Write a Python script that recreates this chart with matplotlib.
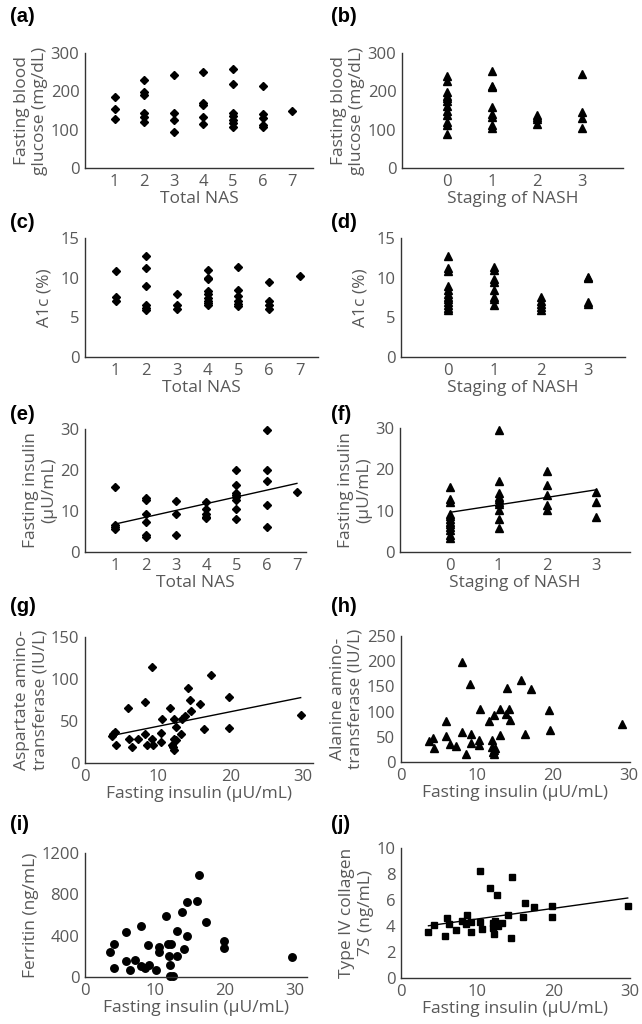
import numpy as np
import matplotlib.pyplot as plt

plt.rcParams['font.family'] = ['Open Sans', 'DejaVu Sans']
W, H = 642, 1024
grey = '#585858'
fs_tick = 12
fs_lab = 12.5

# categories
nas = [1, 2, 3, 4, 5, 6, 7]
stage = [0, 1, 2, 3]

# (a) fasting blood glucose by total NAS
a_glu = [[184, 154, 129], [230, 198, 190, 143, 133, 119], [243, 143, 126, 93],
         [250, 169, 164, 133, 116], [257, 219, 143, 135, 126, 117, 106],
         [215, 142, 130, 113, 107], [148]]
# (b) fasting blood glucose by staging
b_glu = [[240, 228, 198, 189, 183, 176, 163, 150, 137, 121, 113, 89],
         [254, 214, 212, 160, 141, 133, 111, 104], [139, 133, 128, 114],
         [245, 147, 130, 104]]
# (c) A1c by total NAS
c_a1c = [[10.8, 7.6, 7.1], [12.7, 11.2, 8.9, 6.5, 6.2, 5.9], [8.0, 6.6, 6.0],
         [11.0, 10.0, 9.8, 8.3, 7.9, 7.5, 7.1, 6.8, 6.6],
         [11.4, 8.5, 7.7, 7.1, 6.7, 6.4], [9.4, 7.1, 6.6, 6.1], [10.2]]
# (d) A1c by staging
d_a1c = [[12.7, 11.2, 10.9, 8.9, 8.4, 8.0, 7.6, 7.3, 6.9, 6.6, 6.2, 5.9],
         [11.4, 11.0, 9.8, 9.4, 8.4, 7.6, 7.3, 6.6], [7.6, 7.1, 6.7, 6.3, 5.9],
         [10.1, 9.9, 6.9, 6.7]]
# (e) fasting insulin by total NAS
e_ins = [[15.9, 6.5, 6.0, 5.6], [13.2, 12.7, 9.2, 7.2, 4.1, 3.7], [12.4, 9.2, 4.1],
         [12.3, 10.5, 9.2, 8.6, 8.2], [19.9, 16.4, 14.5, 13.9, 13.3, 12.7, 10.6, 8.0],
         [29.8, 19.9, 17.4, 11.5, 6.0], [14.6]]
# (f) fasting insulin by staging
f_ins = [[15.8, 12.8, 12.2, 9.3, 8.7, 7.9, 7.3, 6.7, 6.1, 5.4, 4.2, 3.5],
         [29.4, 17.2, 14.2, 13.4, 12.8, 12.2, 11.6, 10.1, 7.9, 5.8],
         [19.6, 16.1, 13.9, 11.4, 10.1], [14.4, 12.2, 8.4]]
# (g) AST vs fasting insulin
g_ins = [3.7, 3.9, 4.2, 4.3, 5.9, 6.1, 6.5, 7.3, 8.2, 8.3, 8.6, 9.2, 9.2, 9.3, 10.4, 10.5,
         10.6, 11.7, 12.0, 12.1, 12.2, 12.2, 12.3, 12.5, 12.6, 13.3, 13.2, 13.8, 14.2,
         14.4, 14.6, 15.9, 16.4, 17.3, 19.8, 19.9, 29.7]
g_ast = [31.8, 34, 36.5, 22, 66, 29, 19, 29, 72.6, 34, 22, 114, 29, 22, 35.7, 24.6,
         52.4, 66, 22, 19, 15, 29, 52.8, 27, 42.9, 52.8, 35, 55.6, 89.7,
         75.4, 62, 70, 40, 105, 79, 41.7, 57.6]
# (h) ALT vs fasting insulin
h_ins = [3.7, 4.2, 4.3, 5.9, 6.0, 6.4, 7.3, 8.1, 8.1, 8.6, 9.1, 9.2, 9.2, 10.3, 10.4, 10.3,
         11.6, 12.2, 12.0, 12.0, 12.1, 12.2, 12.3, 12.4, 13.0, 13.1, 13.8, 14.0, 14.3,
         14.4, 15.8, 16.3, 17.2, 19.5, 19.6, 29.2]
h_alt = [41.8, 48.4, 27.8, 81.5, 51, 36.5, 31.2, 59.7, 197.6, 16.6, 154.5, 55.7, 37.8,
         43, 105.4, 33, 81.5, 94, 43, 30, 20, 16.6, 24.5, 27.8, 53, 104.8, 94.8, 147.8,
         106, 82.9, 161.8, 55, 144.5, 102.8, 63.6, 74.9]
# (i) ferritin vs fasting insulin
i_ins = [3.6, 4.1, 4.1, 5.9, 5.9, 6.4, 7.2, 8.0, 8.0, 8.5, 9.1, 9.0, 10.2, 10.5, 10.5,
         11.5, 11.9, 12.0, 12.3, 12.2, 12.1, 12.5, 13.1, 13.2, 13.8, 14.1, 14.5, 14.5,
         16.0, 16.3, 17.3, 19.9, 19.8, 29.6]
i_fer = [242, 316, 90, 432, 155, 71, 161, 494, 103, 90, 116, 310, 71, 290, 239,
         594, 316, 206, 316, 113, 6, 6, 200, 445, 626, 274, 726, 400,
         736, 990, 532, 345, 284, 190]
# (j) type IV collagen 7S vs fasting insulin
j_ins = [3.6, 4.3, 5.8, 6.0, 6.3, 7.2, 8.0, 8.6, 8.5, 9.2, 9.2, 10.4, 10.4, 10.6, 11.6,
         12.0, 12.1, 12.2, 12.3, 12.6, 12.7, 13.2, 14.0, 14.4, 14.6, 16.0, 16.3, 17.4,
         19.8, 19.8, 29.7]
j_col = [3.52, 4.06, 3.24, 4.65, 4.16, 3.7, 4.4, 4.83, 4.16, 3.52, 4.27, 8.22, 4.27,
         3.78, 6.89, 4.22, 3.83, 3.39, 4.42, 6.37, 4.03, 4.22, 4.88, 3.08, 7.76, 4.70,
         5.78, 5.45, 5.55, 4.73, 5.52]

fig = plt.figure(figsize=(W / 100, H / 100), dpi=100)


def px_axes(l, r, t, b):
    ax = fig.add_axes([l / W, 1 - b / H, (r - l) / W, (b - t) / H])
    for s in ['top', 'right']:
        ax.spines[s].set_visible(False)
    for s in ['left', 'bottom']:
        ax.spines[s].set_color('#333333')
        ax.spines[s].set_linewidth(1.0)
    ax.tick_params(length=0, labelsize=fs_tick, labelcolor=grey, pad=4)
    return ax


def flat(cats, groups):
    xs = [c for c, g in zip(cats, groups) for _ in g]
    ys = [v for g in groups for v in g]
    return np.array(xs, float), np.array(ys, float)


def trend(ax, x, y):
    k, b = np.polyfit(x, y, 1)
    xx = np.array([min(x), max(x)])
    ax.plot(xx, k * xx + b, color='black', lw=1.0)


def label(x, y, s):
    fig.text(x / W, 1 - y / H, s, fontsize=14.5, fontweight='bold',
             family='Liberation Sans', va='center', ha='left')


dia = dict(marker='D', ms=3.8, color='black', ls='none', clip_on=False)
tri = dict(marker='^', ms=5.4, color='black', ls='none', clip_on=False)

# (a)
ax = px_axes(85, 313, 53, 168)
x, y = flat(nas, a_glu)
ax.plot(x, y, **dia)
ax.set_xlim(0, 7.7); ax.set_ylim(0, 300)
ax.set_xticks(nas); ax.set_yticks([0, 100, 200, 300])
ax.set_ylabel('Fasting blood\nglucose (mg/dL)', fontsize=fs_lab, color=grey, labelpad=2)
ax.set_xlabel('Total NAS', fontsize=fs_lab, color=grey, labelpad=1)
label(10, 17, '(a)')

# (b)
ax = px_axes(402, 623, 53, 168)
x, y = flat(stage, b_glu)
ax.plot(x, y, **tri)
ax.set_xlim(-1, 3.9); ax.set_ylim(0, 300)
ax.set_xticks(stage); ax.set_yticks([0, 100, 200, 300])
ax.set_ylabel('Fasting blood\nglucose (mg/dL)', fontsize=fs_lab, color=grey, labelpad=2)
ax.set_xlabel('Staging of NASH', fontsize=fs_lab, color=grey, labelpad=1)
label(331, 17, '(b)')

# (c)
ax = px_axes(85, 318, 238, 357)
x, y = flat(nas, c_a1c)
ax.plot(x, y, **dia)
ax.set_xlim(0, 7.6); ax.set_ylim(0, 15)
ax.set_xticks(nas); ax.set_yticks([0, 5, 10, 15])
ax.set_ylabel('A1c (%)', fontsize=fs_lab, color=grey, labelpad=6)
ax.set_xlabel('Total NAS', fontsize=fs_lab, color=grey, labelpad=1)
label(10, 222, '(c)')

# (d)
ax = px_axes(401, 625, 238, 357)
x, y = flat(stage, d_a1c)
ax.plot(x, y, **tri)
ax.set_xlim(-1, 3.8); ax.set_ylim(0, 15)
ax.set_xticks(stage); ax.set_yticks([0, 5, 10, 15])
ax.set_ylabel('A1c (%)', fontsize=fs_lab, color=grey, labelpad=6)
ax.set_xlabel('Staging of NASH', fontsize=fs_lab, color=grey, labelpad=1)
label(331, 222, '(d)')

# (e)
ax = px_axes(85, 306, 429, 552)
x, y = flat(nas, e_ins)
ax.plot(x, y, **dia)
trend(ax, x, y)
ax.set_xlim(0, 7.3); ax.set_ylim(0, 30)
ax.set_xticks(nas); ax.set_yticks([0, 10, 20, 30])
ax.set_ylabel('Fasting insulin\n(\u00b5U/mL)', fontsize=fs_lab, color=grey, labelpad=2)
ax.set_xlabel('Total NAS', fontsize=fs_lab, color=grey, labelpad=1)
label(10, 414, '(e)')

# (f)
ax = px_axes(400, 630, 428, 552)
x, y = flat(stage, f_ins)
ax.plot(x, y, **tri)
trend(ax, x, y)
ax.set_xlim(-1.03, 3.7); ax.set_ylim(0, 30)
ax.set_xticks(stage); ax.set_yticks([0, 10, 20, 30])
ax.set_ylabel('Fasting insulin\n(\u00b5U/mL)', fontsize=fs_lab, color=grey, labelpad=2)
ax.set_xlabel('Staging of NASH', fontsize=fs_lab, color=grey, labelpad=1)
label(331, 414, '(f)')

# (g)
ax = px_axes(85, 313, 637, 763)
ax.plot(g_ins, g_ast, **dia)
trend(ax, g_ins, g_ast)
ax.set_xlim(0, 31.4); ax.set_ylim(0, 150)
ax.set_xticks([0, 10, 20, 30]); ax.set_yticks([0, 50, 100, 150])
ax.set_ylabel('Aspartate amino-\ntransferase (IU/L)', fontsize=fs_lab, color=grey, labelpad=2)
ax.set_xlabel('Fasting insulin (\u00b5U/mL)', fontsize=fs_lab, color=grey, labelpad=1)
label(10, 606, '(g)')

# (h)
ax = px_axes(401, 630, 636, 762)
ax.plot(h_ins, h_alt, **tri)
ax.set_xlim(0, 30.2); ax.set_ylim(0, 250)
ax.set_xticks([0, 10, 20, 30]); ax.set_yticks([0, 50, 100, 150, 200, 250])
ax.set_ylabel('Alanine amino-\ntransferase (IU/L)', fontsize=fs_lab, color=grey, labelpad=2)
ax.set_xlabel('Fasting insulin (\u00b5U/mL)', fontsize=fs_lab, color=grey, labelpad=1)
label(331, 606, '(h)')

# (i)
ax = px_axes(85, 307, 853, 977)
ax.plot(i_ins, i_fer, marker='o', ms=5.4, color='black', ls='none', clip_on=False)
ax.set_xlim(0, 31.7); ax.set_ylim(0, 1200)
ax.set_xticks([0, 10, 20, 30]); ax.set_yticks([0, 400, 800, 1200])
ax.set_ylabel('Ferritin (ng/mL)', fontsize=fs_lab, color=grey, labelpad=2)
ax.set_xlabel('Fasting insulin (\u00b5U/mL)', fontsize=fs_lab, color=grey, labelpad=1)
label(10, 824, '(i)')

# (j)
ax = px_axes(401, 630, 848, 978)
ax.plot(j_ins, j_col, marker='s', ms=5.0, color='black', ls='none', clip_on=False)
trend(ax, j_ins, j_col)
ax.set_xlim(0, 30); ax.set_ylim(0, 10)
ax.set_xticks([0, 10, 20, 30]); ax.set_yticks([0, 2, 4, 6, 8, 10])
ax.set_ylabel('Type IV collagen\n7S (ng/mL)', fontsize=fs_lab, color=grey, labelpad=2)
ax.set_xlabel('Fasting insulin (\u00b5U/mL)', fontsize=fs_lab, color=grey, labelpad=1)
label(331, 824, '(j)')

fig.savefig('out.png', dpi=100)
